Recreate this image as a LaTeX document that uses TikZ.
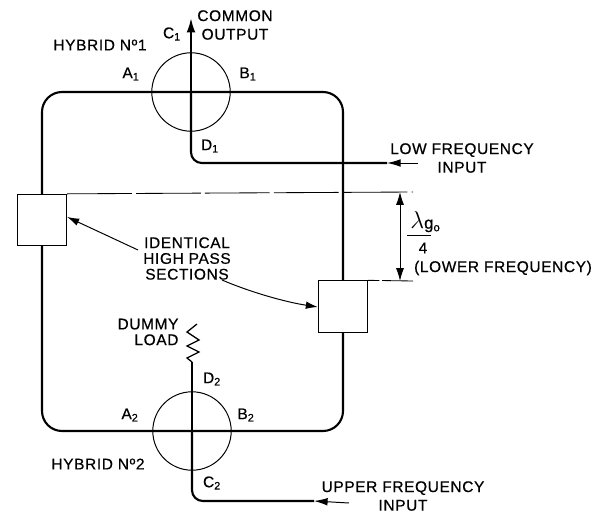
\documentclass[tikz,border=0pt]{standalone}
\usepackage{fontspec}
\setmainfont[LetterSpace=4,FakeBold=0.6]{Liberation Sans}
\usetikzlibrary{arrows.meta}
\tikzset{
  guide/.style={line width=1.5pt, rounded corners=0.5cm},
  feed/.style={line width=1.5pt, rounded corners=0.27cm},
  tail/.style={line width=0.7pt, -{Latex[length=3.4mm,width=1.9mm]}},
  pointer/.style={line width=0.7pt, -{Latex[length=3mm,width=1.9mm]}},
  dim/.style={line width=0.7pt, {Latex[length=3.2mm,width=2mm]}-{Latex[length=3.2mm,width=2mm]}},
  ext/.style={line width=0.6pt, dash pattern=on 46pt off 3pt},
  hybrid/.style={draw, circle, line width=0.7pt, inner sep=0pt, minimum size=1.96cm},
  section/.style={draw, rectangle, line width=0.8pt, inner sep=0pt, minimum width=1.23cm, minimum height=1.28cm},
  lbl/.style={font=\fontsize{11}{11.2}\selectfont, inner sep=0pt}
}
\begin{document}
\begin{tikzpicture}[x=0.025cm, y=-0.025cm]
  \useasboundingbox (0,0) rectangle (599,513);

  % hybrids and high pass sections
  \node[hybrid] (hybridone) at (191,92) {};
  \node[hybrid] (hybridtwo) at (192,431) {};
  \node[section] (boxleft) at (42,220) {};
  \node[section] (boxright) at (343,306.5) {};

  % free ends
  \coordinate (outtip) at (191,18);
  \coordinate (lowend) at (418,163);
  \coordinate (lowtip) at (387,163);
  \coordinate (upend) at (349,503);
  \coordinate (uptip) at (314,501);
  \coordinate (dimone) at (413,192);
  \coordinate (dimtwo) at (413,281);
  \coordinate (dimtop) at (400,192);
  \coordinate (dimbot) at (400,281);
  \coordinate (loadtop) at (197,324);
  \coordinate (loadbot) at (192,362);
  \coordinate (ptrleft) at (138,250);
  \coordinate (ptrright) at (222,280);

  % main ring
  \draw[guide] (boxleft.north) |- (hybridone.center) -| (boxright.north);
  \draw[guide] (boxleft.south) |- (hybridtwo.center) -| (boxright.south);

  % common output
  \draw[line width=1.5pt, -{Latex[length=3.6mm,width=2.2mm]}] (hybridone.center) -- (outtip);

  % inputs
  \draw[feed] (hybridone.center) |- (lowtip);
  \draw[tail] (lowend) -- (lowtip);
  \draw[feed] (hybridtwo.center) |- (uptip);
  \draw[tail] (upend) -- (uptip);

  % dummy load
  \draw[line width=1.3pt] (hybridtwo.center) -- (loadbot);
  \draw[line width=0.9pt] (loadbot) -- (187,358) -- (199,352) -- (187,346) -- (199,340) -- (187,332) -- (loadtop);

  % quarter wave spacing
  \draw[ext] (boxleft.north east) -- (dimone);
  \draw[ext, dash pattern=on 8pt off 2pt on 60pt] (boxright.north east) -- (dimtwo);
  \draw[dim] (dimtop) -- (dimbot);

  % labels
  \node[lbl] (hybridonelbl) at (100,45) {HYBRID N{º}1};
  \node[lbl] (hybridtwolbl) at (98,464) {HYBRID N{º}2};
  \node[lbl, align=center] (outlbl) at (235,25) {COMMON\\[2pt]OUTPUT};
  \node[lbl] (cone) at (172,34) {C\textsubscript{1}};
  \node[lbl] (aone) at (131,74) {A\textsubscript{1}};
  \node[lbl] (bone) at (248,74) {B\textsubscript{1}};
  \node[lbl] (done) at (210,146) {D\textsubscript{1}};
  \node[lbl] (atwo) at (130,415) {A\textsubscript{2}};
  \node[lbl] (btwo) at (246,415) {B\textsubscript{2}};
  \node[lbl] (dtwo) at (212,379) {D\textsubscript{2}};
  \node[lbl] (ctwo) at (212,483) {C\textsubscript{2}};
  \node[lbl, align=center] (lowlbl) at (462,158) {LOW FREQUENCY\\[2pt]INPUT};
  \node[lbl, align=center] (uplbl) at (403,496) {UPPER FREQUENCY\\[2pt]INPUT};
  \node[lbl, align=center] (sectlbl) at (187,258.5) {IDENTICAL\\HIGH PASS\\SECTIONS};
  \node[lbl, align=right] (loadlbl) at (148,332) {DUMMY\\LOAD};
  \node[lbl, anchor=west] (lambdalbl) at (410,222) {\LARGE$\lambda$\large g\textsubscript{o}};
  \node[lbl] (fourlbl) at (423,248) {4};
  \node[lbl] (freqlbl) at (503,268) {(LOWER FREQUENCY)};
  \draw[line width=0.7pt] (407,235) -- (431,235);

  % pointers to the sections
  \draw[pointer] (ptrleft) -- (boxleft.east |- 0,217);
  \draw[pointer] (ptrright) .. controls (250,292) and (285,302) .. (boxright.west |- 0,307);
\end{tikzpicture}
\end{document}
